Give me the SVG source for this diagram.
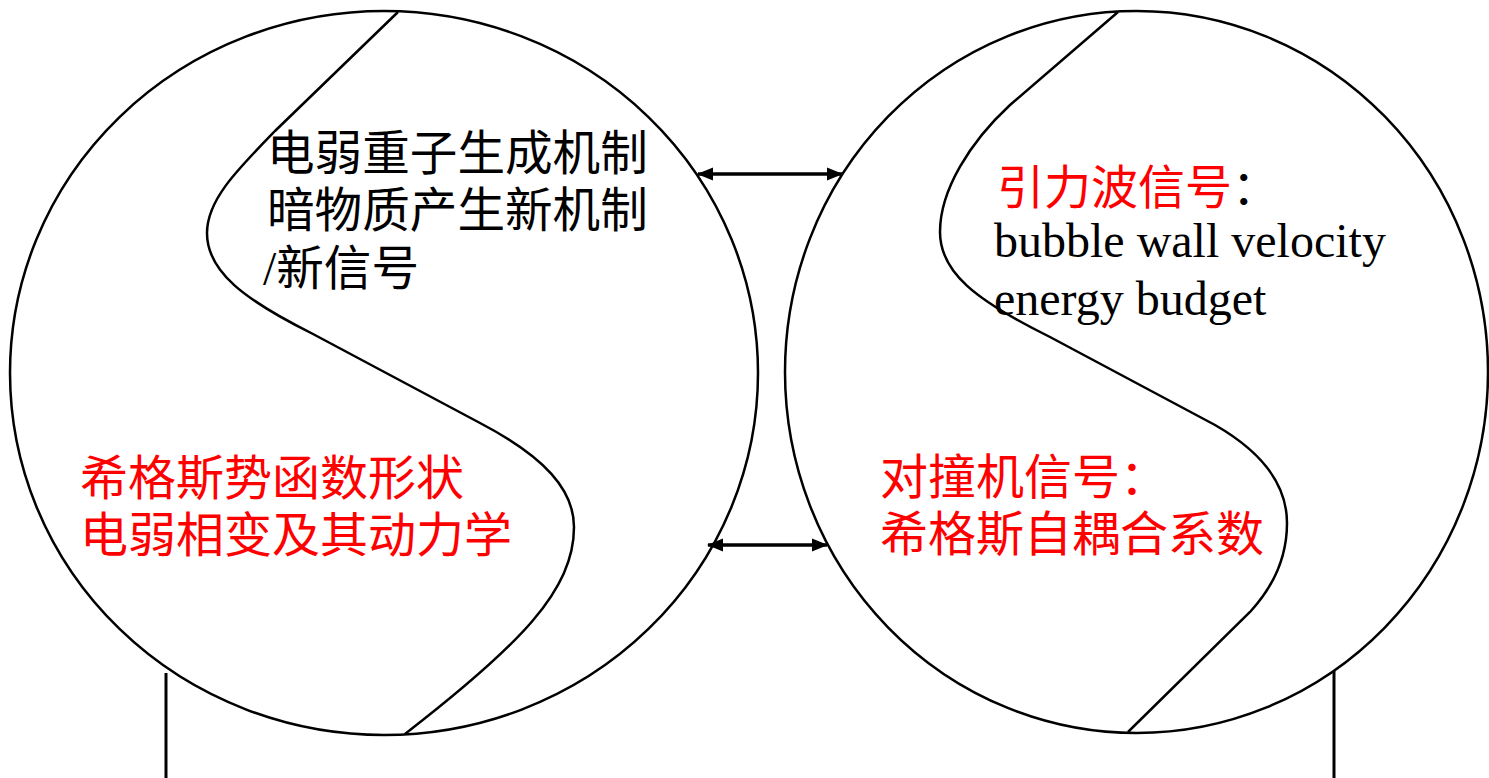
<svg xmlns="http://www.w3.org/2000/svg" width="1489" height="778" viewBox="0 0 1489 778">
<style>
.shape{fill:none;stroke:#000;stroke-width:2.5}
.cjk{font-family:"Liberation Serif","Noto Sans CJK SC",serif;font-size:47.6px}
.big{font-size:48px}
.en{font-family:"Liberation Serif","Noto Sans CJK SC",serif;font-size:48px;fill:#000}
.red{fill:#FF0000}
.blk{fill:#000}
.conn{stroke:#000;stroke-width:3;fill:none}
.arr{stroke:#000;stroke-width:3.5;fill:none}
</style>
<defs>
<marker id="ah" markerUnits="userSpaceOnUse" markerWidth="16" markerHeight="14" refX="15" refY="7" orient="auto-start-reverse">
<path d="M0,0.5 L16,7 L0,13.5 Z" fill="#000"/>
</marker>
</defs>
<rect width="1489" height="778" fill="#fff"/>
<g id="left-node">
<ellipse class="shape" cx="384" cy="373" rx="374" ry="362"/>
<path class="shape" d="M398,12 L275,131 C237,170 207,200 207,233 C207,272 245,300 313,334 L480,423 C545,457 574,490 574,527 C574,590 520,645 405,734"/>
<text class="cjk blk" x="267" y="170">电弱重子生成机制</text>
<text class="cjk blk" x="267" y="227">暗物质产生新机制</text>
<text class="cjk blk" x="263" y="285">/新信号</text>
<text class="cjk big red" x="80" y="495">希格斯势函数形状</text>
<text class="cjk big red" x="80" y="552">电弱相变及其动力学</text>
</g>
<g id="right-node">
<ellipse class="shape" cx="1136.5" cy="372" rx="351.5" ry="361"/>
<path class="shape" d="M1118,12 L1010,105 C970,142 940,190 940,232 C940,272 975,300 1050,337 L1215,425 C1262,452 1287,485 1287,523 C1287,555 1275,585 1250,612 L1128,732"/>
<text class="cjk" x="997" y="204" style="font-size:47px"><tspan class="red">引力波信号</tspan><tspan class="blk">：</tspan></text>
<text class="en" x="994" y="257">bubble wall velocity</text>
<text class="en" x="994" y="315">energy budget</text>
<text class="cjk big red" x="880" y="494">对撞机信号：</text>
<text class="cjk big red" x="880" y="551">希格斯自耦合系数</text>
</g>
<g id="connectors">
<line class="arr" x1="698" y1="174" x2="842" y2="174" marker-start="url(#ah)" marker-end="url(#ah)"/>
<line class="arr" x1="708" y1="545" x2="827" y2="545" marker-start="url(#ah)" marker-end="url(#ah)"/>
<line class="conn" x1="166" y1="673" x2="166" y2="778"/>
<line class="conn" x1="1334" y1="671" x2="1334" y2="778"/>
</g>
</svg>
